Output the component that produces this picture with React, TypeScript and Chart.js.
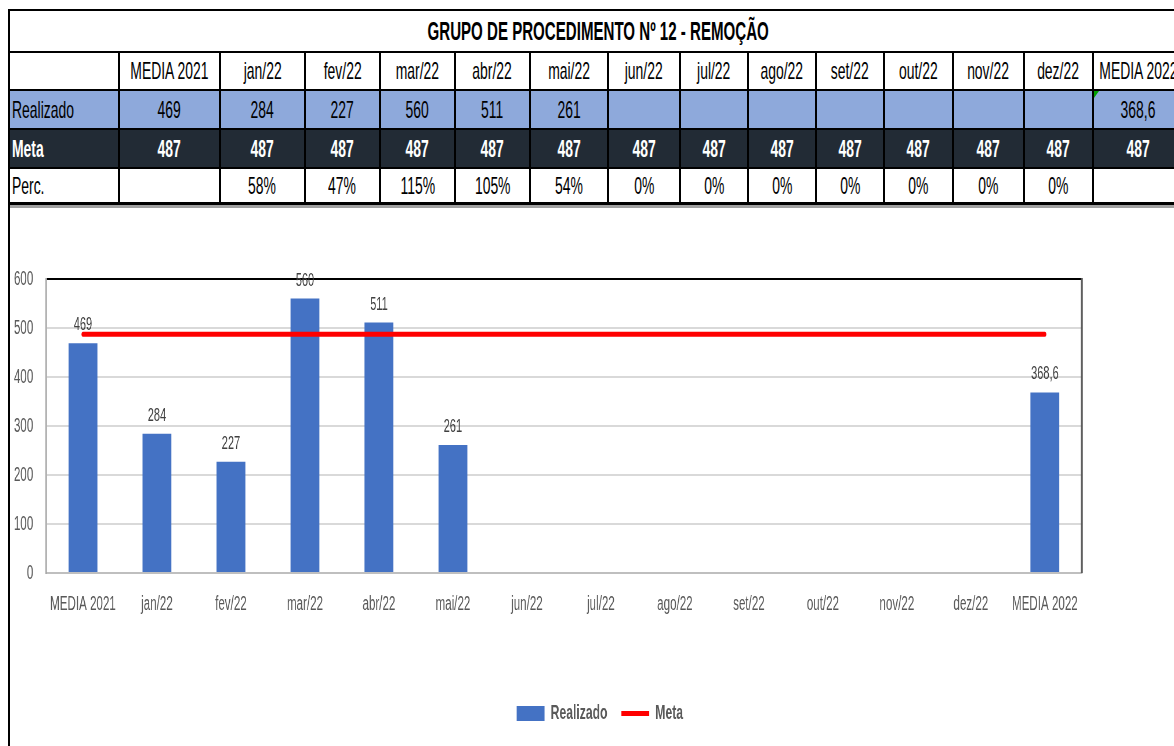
import React, { useEffect, useRef } from "react";
import { Chart, registerables } from "chart.js";

Chart.register(...registerables);

// ---------- data ----------
const title = "GRUPO DE PROCEDIMENTO Nº 12 - REMOÇÃO";
const categories = [
  "MEDIA 2021", "jan/22", "fev/22", "mar/22", "abr/22", "mai/22", "jun/22",
  "jul/22", "ago/22", "set/22", "out/22", "nov/22", "dez/22", "MEDIA 2022",
];
const realizado: (number | null)[] = [469, 284, 227, 560, 511, 261, null, null, null, null, null, null, null, 368.6];
const meta = [487, 487, 487, 487, 487, 487, 487, 487, 487, 487, 487, 487, 487, 487];
const percLabels = ["", "58%", "47%", "115%", "105%", "54%", "0%", "0%", "0%", "0%", "0%", "0%", "0%", ""];
const rowNames = ["Realizado", "Meta", "Perc."];
const yMin = 0;
const yMax = 600;
const yStep = 100;

// ---------- styling / layout ----------
const S = 0.58; // horizontal condensation of text
const FONT = '"Liberation Sans", Arial, sans-serif';
const xs = [8, 119, 220, 305, 380, 455, 530, 608, 680, 748, 816, 884, 953, 1024, 1093, 1183];
const ys = [10, 52, 90, 129, 168, 203];

const fmt = (v: number | null) => (v == null ? "" : String(v).replace(".", ","));

function Cell(props: {
  x0: number; x1: number; y0: number; y1: number; text: string;
  bold?: boolean; color?: string; size?: number; left?: boolean;
}) {
  const { x0, x1, y0, y1, text, bold, color, size, left } = props;
  return (
    <div
      style={{
        position: "absolute",
        left: x0,
        top: y0,
        width: x1 - x0,
        height: y1 - y0,
        display: "flex",
        alignItems: "center",
        justifyContent: left ? "flex-start" : "center",
        paddingLeft: left ? 4 : 0,
        boxSizing: "border-box",
        overflow: "visible",
      }}
    >
      <span
        style={{
          display: "inline-block",
          whiteSpace: "nowrap",
          transform: `scaleX(${S})`,
          transformOrigin: left ? "left center" : "center center",
          fontFamily: FONT,
          fontSize: size || 24,
          fontWeight: bold ? 700 : 400,
          color: color || "#000",
          lineHeight: 1,
        }}
      >
        {text}
      </span>
    </div>
  );
}

function Line(props: { x: number; y: number; w: number; h: number; c?: string }) {
  return (
    <div
      style={{
        position: "absolute",
        left: props.x,
        top: props.y,
        width: props.w,
        height: props.h,
        background: props.c || "#000",
      }}
    />
  );
}

export default function App() {
  const canvasRef = useRef<HTMLCanvasElement | null>(null);

  useEffect(() => {
    const canvas = canvasRef.current;
    if (!canvas) return;

    const valueLabels = {
      id: "valueLabels",
      afterDatasetsDraw(chart: any) {
        const ctx = chart.ctx;
        const a = chart.chartArea;
        ctx.save();
        ctx.strokeStyle = "#595959";
        ctx.lineWidth = 3.4;
        ctx.beginPath();
        ctx.moveTo(a.right, a.top - 1);
        ctx.lineTo(a.right, a.bottom);
        ctx.stroke();
        const m = chart.getDatasetMeta(0);
        ctx.font = `19px ${FONT}`;
        ctx.fillStyle = "#404040";
        ctx.textAlign = "center";
        ctx.textBaseline = "alphabetic";
        m.data.forEach((el: any, i: number) => {
          const v = realizado[i];
          if (v == null) return;
          ctx.fillText(fmt(v), el.x, el.y - 13);
        });
        ctx.restore();
      },
    };

    const chart = new Chart(canvas, {
      type: "bar",
      data: {
        labels: categories,
        datasets: [
          {
            type: "bar",
            label: "Realizado",
            data: realizado,
            backgroundColor: "#4472C4",
            borderWidth: 0,
            barPercentage: 0.39,
            categoryPercentage: 1,
            pointStyle: "rect",
            order: 1,
          } as any,
          {
            type: "line",
            label: "Meta",
            data: meta,
            borderColor: "#FF0000",
            backgroundColor: "#FF0000",
            borderWidth: 5,
            borderCapStyle: "round",
            pointRadius: 0,
            pointStyle: "line",
            fill: false,
            order: 0,
          } as any,
        ],
      },
      options: {
        responsive: false,
        animation: false,
        devicePixelRatio: 1,
        layout: { padding: { top: 74, right: 0, bottom: 12, left: 0 } },
        plugins: {
          legend: {
            position: "bottom",
            labels: {
              usePointStyle: true,
              pointStyleWidth: 48,
              boxHeight: 15,
              padding: 24,
              color: "#595959",
              font: { family: FONT, size: 21, weight: "bold" },
              sort: (a: any, b: any) => a.datasetIndex - b.datasetIndex,
            },
          },
          tooltip: { enabled: false },
        },
        scales: {
          x: {
            grid: { display: false, drawTicks: false },
            border: { display: true, color: "#BFBFBF", width: 2 },
            ticks: {
              color: "#595959",
              font: { family: FONT, size: 20 },
              padding: 19,
              maxRotation: 0,
              autoSkip: false,
            },
            afterFit: (s: any) => {
              s.height = 106;
            },
          },
          y: {
            min: yMin,
            max: yMax,
            ticks: {
              stepSize: yStep,
              color: "#595959",
              font: { family: FONT, size: 20 },
              padding: 22,
            },
            grid: {
              drawTicks: false,
              lineWidth: 2,
              color: (c: any) => (c.tick && c.tick.value === yMax ? "#000000" : "#D9D9D9"),
            },
            border: { color: "#A6A6A6", width: 2.6 },
            afterFit: (s: any) => {
              s.width = 62;
            },
          },
          yRight: {
            position: "right",
            display: true,
            grid: { display: false, drawTicks: false },
            border: { display: false },
            ticks: { display: false },
            afterFit: (s: any) => {
              s.width = 186;
            },
          },
        },
      } as any,
      plugins: [valueLabels],
    });
    return () => chart.destroy();
  }, []);

  const nCols = categories.length;
  const cells: any[] = [];
  cells.push(
    <Cell key="title" x0={xs[0]} x1={1188} y0={ys[0]} y1={ys[1]} text={title} bold size={26} />
  );
  cells.push(<Cell key="r0" x0={xs[0]} x1={xs[1]} y0={ys[2]} y1={ys[3]} text={rowNames[0]} left />);
  cells.push(<Cell key="r1" x0={xs[0]} x1={xs[1]} y0={ys[3]} y1={ys[4]} text={rowNames[1]} left bold color="#fff" />);
  cells.push(<Cell key="r2" x0={xs[0]} x1={xs[1]} y0={ys[4]} y1={ys[5]} text={rowNames[2]} left />);
  for (let i = 0; i < nCols; i++) {
    const x0 = xs[i + 1];
    const x1 = xs[i + 2];
    cells.push(<Cell key={"h" + i} x0={x0} x1={x1} y0={ys[1]} y1={ys[2]} text={categories[i]} />);
    cells.push(<Cell key={"v" + i} x0={x0} x1={x1} y0={ys[2]} y1={ys[3]} text={fmt(realizado[i])} />);
    cells.push(<Cell key={"m" + i} x0={x0} x1={x1} y0={ys[3]} y1={ys[4]} text={String(meta[i])} bold color="#fff" />);
    cells.push(<Cell key={"p" + i} x0={x0} x1={x1} y0={ys[4]} y1={ys[5]} text={percLabels[i]} />);
  }

  const lines: any[] = [];
  ys.forEach((y, i) => {
    if (i === ys.length - 1) {
      lines.push(<Line key={"hl" + i} x={xs[0]} y={y - 1} w={1200} h={3} />);
      lines.push(<Line key={"hls" + i} x={xs[0]} y={y + 2} w={1200} h={3} c="#A0A0A0" />);
    } else {
      lines.push(<Line key={"hl" + i} x={xs[0]} y={y - 1} w={1200} h={2} />);
    }
  });
  for (let i = 1; i < xs.length; i++) {
    lines.push(<Line key={"vl" + i} x={xs[i] - 1} y={ys[1]} w={2} h={ys[5] - ys[1]} />);
  }
  lines.push(<Line key="left" x={xs[0]} y={ys[0]} w={2} h={746 - ys[0]} />);

  const canvasRealW = 1180;
  const canvasW = Math.round(canvasRealW / S);
  const canvasH = 541;

  return (
    <div
      style={{
        position: "fixed",
        left: 0,
        top: 0,
        width: 1174,
        height: 746,
        overflow: "hidden",
        background: "#fff",
      }}
    >
      <Line x={xs[0]} y={ys[2]} w={1200} h={ys[3] - ys[2]} c="#8EA9DB" />
      <Line x={xs[0]} y={ys[3]} w={1200} h={ys[4] - ys[3]} c="#222B35" />
      {lines}
      <div
        style={{
          position: "absolute",
          left: xs[14] + 1,
          top: ys[2] + 1,
          width: 0,
          height: 0,
          borderTop: "7px solid #00A000",
          borderRight: "5px solid transparent",
        }}
      />
      {cells}
      <div
        style={{
          position: "absolute",
          left: 10,
          top: 205,
          width: canvasW,
          height: canvasH,
          transform: `scaleX(${S})`,
          transformOrigin: "0 0",
        }}
      >
        <canvas ref={canvasRef} width={canvasW} height={canvasH} style={{ display: "block" }} />
      </div>
    </div>
  );
}
